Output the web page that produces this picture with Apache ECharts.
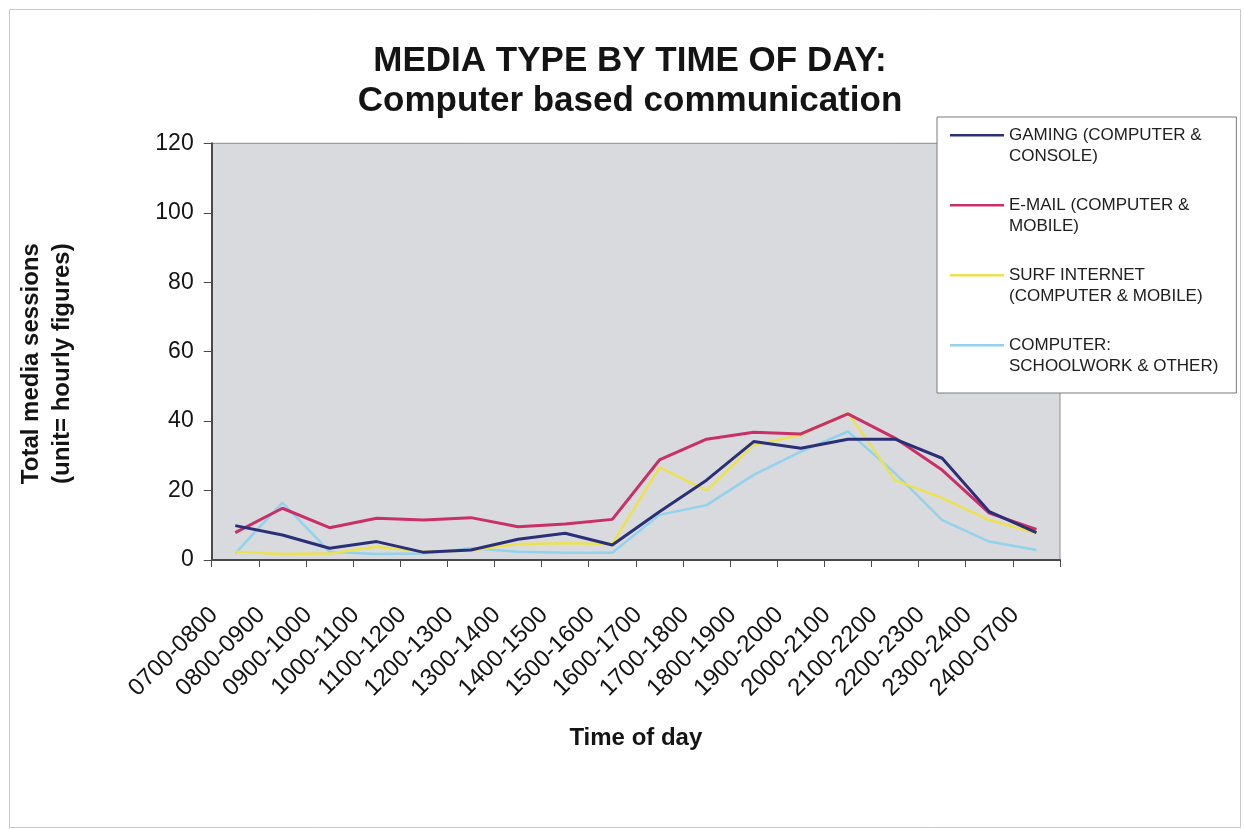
<!DOCTYPE html>
<html>
<head>
<meta charset="utf-8">
<script src="https://cdn.jsdelivr.net/npm/echarts@6/dist/echarts.min.js"></script>
<style>
html,body{margin:0;padding:0;background:#fff;}
#chart{width:1244px;height:829px;}
</style>
</head>
<body>
<div id="chart"></div>
<script>
const categories = ['0700-0800','0800-0900','0900-1000','1000-1100','1100-1200','1200-1300','1300-1400','1400-1500','1500-1600','1600-1700','1700-1800','1800-1900','1900-2000','2000-2100','2100-2200','2200-2300','2300-2400','2400-0700'];
const gaming   = [9.9, 7.2, 3.4, 5.3, 2.2, 2.9, 6.0, 7.7, 4.3, 13.9, 23.0, 34.1, 32.2, 34.8, 34.8, 29.3, 13.9, 7.9];
const email    = [7.9, 14.9, 9.3, 12.0, 11.5, 12.2, 9.6, 10.4, 11.7, 28.8, 34.8, 36.8, 36.3, 42.1, 35.1, 25.9, 13.5, 8.8];
const surf     = [2.4, 1.7, 1.9, 3.8, 2.4, 2.7, 4.6, 4.8, 4.6, 26.7, 20.0, 33.1, 36.0, 42.3, 23.0, 17.8, 11.5, 7.7];
const computer = [1.9, 16.5, 2.4, 1.7, 1.9, 3.4, 2.4, 2.1, 2.1, 13.0, 15.8, 24.5, 31.2, 37.0, 25.0, 11.5, 5.3, 2.9];
const seriesNames = ['GAMING (COMPUTER & CONSOLE)','E-MAIL (COMPUTER & MOBILE)','SURF INTERNET (COMPUTER & MOBILE)','COMPUTER: SCHOOLWORK & OTHER)'];
const legendLabels = ['GAMING (COMPUTER &\nCONSOLE)','E-MAIL (COMPUTER &\nMOBILE)','SURF INTERNET\n(COMPUTER & MOBILE)','COMPUTER:\nSCHOOLWORK & OTHER)'];
const seriesColors = ['#2b2f78','#c93068','#ece250','#92d2ec'];
const seriesData = [gaming, email, surf, computer];
const yTicks = [0, 20, 40, 60, 80, 100, 120];

const FONT = "'Liberation Sans', Arial, Helvetica, sans-serif";
// legend key: a short line level with the first text line (tiny corner dots fix the box)
const LEGEND_ICON = 'path://M0,9.5H54V12H0Z M0,0H0.01V0.01H0Z M53.99,41.99H54V42H53.99Z';

const chart = echarts.init(document.getElementById('chart'), null, {renderer:'canvas'});
const option = {
  backgroundColor: '#ffffff',
  animation: false,
  title: {
    text: 'MEDIA TYPE BY TIME OF DAY:\nComputer based communication',
    left: 625, top: 36, textAlign: 'center',
    textStyle: {fontFamily: FONT, fontSize: 35, fontWeight: 'bold', color: '#141414', lineHeight: 40}
  },
  graphic: [{
    type: 'rect', left: 7, top: 7, z: -10, silent: true,
    shape: {width: 1231, height: 818},
    style: {fill: 'none', stroke: '#c8c8c8', lineWidth: 1}
  }],
  legend: {
    orient: 'vertical',
    left: 937, top: 117,
    backgroundColor: '#ffffff',
    borderColor: '#7a7a7a', borderWidth: 1,
    padding: [7.5, 18, 16.5, 13],
    icon: LEGEND_ICON,
    itemWidth: 54, itemHeight: 42, itemGap: 28,
    data: seriesNames,
    formatter: function (name) { return legendLabels[seriesNames.indexOf(name)]; },
    textStyle: {fontFamily: FONT, fontSize: 17, color: '#202020', lineHeight: 21}
  },
  grid: {
    left: 211.7, right: 184, top: 143.3, bottom: 269,
    show: true, backgroundColor: '#d9dadd', borderColor: '#8c8c8c', borderWidth: 1
  },
  xAxis: {
    type: 'category',
    data: categories,
    boundaryGap: true,
    name: 'Time of day',
    nameLocation: 'middle',
    nameGap: 166,
    nameTextStyle: {fontFamily: FONT, fontSize: 24, fontWeight: 'bold', color: '#141414'},
    axisLine: {lineStyle: {color: '#4a4a4a', width: 2}},
    axisTick: {show: true, alignWithLabel: false, length: 7, lineStyle: {color: '#4a4a4a', width: 1}},
    axisLabel: {rotate: 45, interval: 0, margin: 30, padding: [0, 30, 0, 0], fontFamily: FONT, fontSize: 24, color: '#141414'},
    splitLine: {show: false}
  },
  yAxis: {
    type: 'value',
    min: yTicks[0], max: yTicks[yTicks.length - 1], interval: 20,
    name: 'Total media sessions\n(unit= hourly figures)',
    nameLocation: 'middle',
    nameRotate: 90,
    nameGap: 134,
    nameTextStyle: {fontFamily: FONT, fontSize: 24, fontWeight: 'bold', color: '#141414', lineHeight: 31, padding: [0, 24, 0, 0]},
    axisLine: {show: true, lineStyle: {color: '#4a4a4a', width: 2}},
    axisTick: {show: true, length: 8, lineStyle: {color: '#4a4a4a', width: 1}},
    axisLabel: {margin: 18, fontFamily: FONT, fontSize: 23, color: '#141414'},
    splitLine: {show: false}
  },
  series: seriesNames.map(function (n, i) {
    return {
      name: n, type: 'line', data: seriesData[i],
      symbol: 'none', smooth: false,
      color: seriesColors[i],
      lineStyle: {color: seriesColors[i], width: i < 2 ? 3 : 2.5},
      z: 10 - i
    };
  })
};
chart.setOption(option);
</script>
</body>
</html>
